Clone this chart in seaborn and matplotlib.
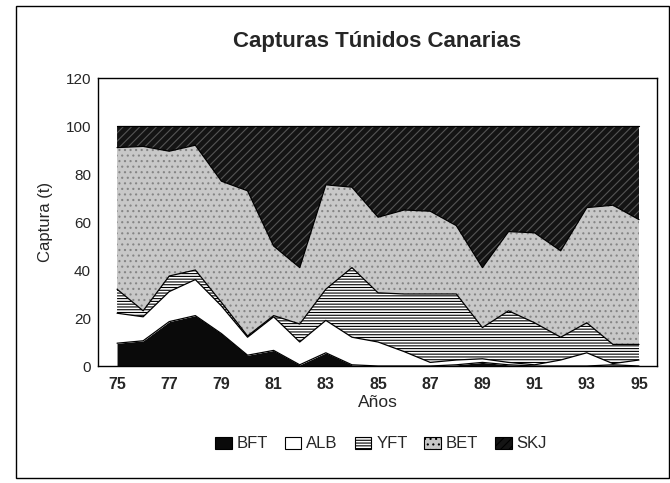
import numpy as np
import matplotlib
matplotlib.use("Agg")
import matplotlib.pyplot as plt
import seaborn as sns
from matplotlib.patches import Patch, Rectangle

# ---- datos (porcentaje de captura por especie) ----
years = list(range(75, 96))
bft = [9.5, 10.5, 18.5, 21, 13.5, 4.5, 6.5, 0.5, 5.5, 0.5, 0, 0, 0, 0.5, 1.5, 0.5, 0, 0, 0, 0.5, 0]
alb = [12.5, 10, 12.5, 15, 11.5, 7.5, 14, 9.5, 13.5, 11.5, 10, 6, 1.5, 2, 1.5, 1, 0.5, 2.5, 5.5, 0.5, 2.5]
yft = [10, 2.5, 6.5, 4, 1.5, 0.5, 0.5, 7.5, 13, 29, 20.5, 24, 28.5, 27.5, 13, 21.5, 17.5, 9.5, 12.5, 8, 6.5]
bet = [59, 68.5, 52, 52, 50.5, 60.5, 29, 23.5, 43.5, 33.5, 31.5, 35, 34.5, 28.5, 25, 33, 37.5, 36, 48, 58, 52]
skj = [9, 8.5, 10.5, 8, 23, 27, 50, 59, 24.5, 25.5, 38, 35, 35.5, 41.5, 59, 44, 44.5, 52, 34, 33, 39]
species = ["BFT", "ALB", "YFT", "BET", "SKJ"]
tick_years = [75, 77, 79, 81, 83, 85, 87, 89, 91, 93, 95]
y_ticks = [0, 20, 40, 60, 80, 100, 120]

faces = ["#0a0a0a", "white", "white", "#c8c8c8", "#141414"]
hatches = [None, None, "------", "...", "////"]
hatch_cols = ["black", "black", "black", "#858585", "#555555"]

sns.set_style("white")
plt.rcParams['font.family'] = ['Liberation Sans', 'DejaVu Sans']
plt.rcParams['hatch.linewidth'] = 0.8

fig = plt.figure(figsize=(6.7, 4.83), dpi=100)
ax = fig.add_axes([98/670, 1-366/483, (657-98)/670, (366-78)/483])

polys = ax.stackplot(years, bft, alb, yft, bet, skj, colors=faces, linewidth=0)
for p, h, hc in zip(polys, hatches, hatch_cols):
    p.set_edgecolor(hc)
    p.set_linewidth(0)
    if h:
        p.set_hatch(h)

# bordes entre areas
cum = np.cumsum(np.vstack([bft, alb, yft, bet, skj]), axis=0)
for row in cum:
    ax.plot(years, row, color="black", lw=0.9)

ax.set_xlim(74.27, 95.69)
ax.set_ylim(0, 120)
ax.set_yticks(y_ticks)
ax.set_xticks(tick_years)
ax.set_xticklabels([str(y) for y in tick_years], fontweight="bold")
ax.tick_params(axis="y", direction="in", length=5, width=1, labelsize=11, pad=5)
ax.tick_params(axis="x", length=0, labelsize=11.5, pad=8)
for s in ax.spines.values():
    s.set_color("black")
    s.set_linewidth(1)

ax.set_xlabel("Años", fontsize=12.5, labelpad=2)
ax.set_ylabel("Captura (t)", fontsize=12, labelpad=9)

fig.text(377/670, 1-41/483, "Capturas Túnidos Canarias", ha="center", va="center",
         fontsize=16, fontweight="bold")

handles = [Patch(facecolor=f, edgecolor="black", hatch=h, linewidth=0.8)
           for f, h in zip(faces, hatches)]
fig.legend(handles, species, loc="center", bbox_to_anchor=(381/670, 1-444/483),
           ncol=5, frameon=False, fontsize=12, handlelength=1.0, handleheight=0.7,
           handletextpad=0.3, columnspacing=1.0)

fig.patches.append(Rectangle((16/670, 5/483), (669-16)/670, (477-5)/483,
                             transform=fig.transFigure, fill=False,
                             edgecolor="black", lw=1))

fig.savefig("out.png", dpi=100)
